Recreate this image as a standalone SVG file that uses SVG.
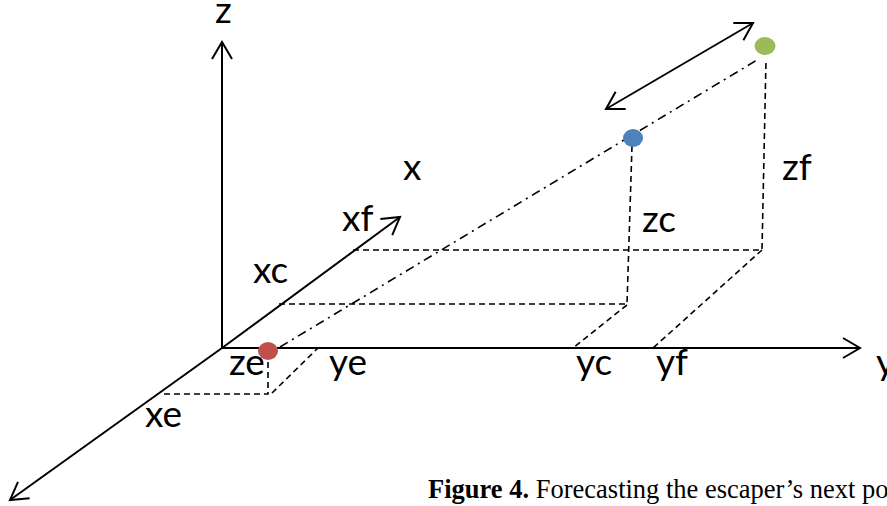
<svg xmlns="http://www.w3.org/2000/svg" width="887" height="506" viewBox="0 0 887 506">
  <style>
    .axis { stroke: #000; stroke-width: 2; fill: none; }
    .dash { stroke: #000; stroke-width: 1.6; fill: none; stroke-dasharray: 6 4; }
    .dashdot { stroke: #000; stroke-width: 1.6; fill: none; stroke-dasharray: 9 5 2 5; }
    .lbl { font-family: Lato, "Open Sans", "Liberation Sans", sans-serif; font-size: 37px; fill: #000; }
    .cap { font-family: "Liberation Serif", "Times New Roman", serif; font-size: 26.5px; fill: #000; }
  </style>
  <defs>
    <marker id="open" markerUnits="userSpaceOnUse" markerWidth="40" markerHeight="40" viewBox="-20 -20 40 40" refX="0" refY="0" orient="auto-start-reverse" overflow="visible">
      <path d="M-17,-10 L0,0 L-17,10" fill="none" stroke="#000" stroke-width="2"/>
    </marker>
  </defs>
  <rect width="887" height="506" fill="#fff"/>

  <g id="connectors">
    <!-- axes -->
    <line class="axis" x1="222" y1="348" x2="222" y2="42" marker-end="url(#open)"/>
    <line class="axis" x1="222" y1="348" x2="860" y2="348" marker-end="url(#open)"/>
    <line class="axis" x1="222" y1="348" x2="10" y2="500" marker-end="url(#open)"/>
    <line class="axis" x1="222" y1="348" x2="400" y2="217" marker-end="url(#open)"/>
    <!-- double arrow -->
    <line class="axis" x1="606" y1="109" x2="753" y2="23" marker-start="url(#open)" marker-end="url(#open)" style="stroke-width:1.8"/>
    <!-- dashed projections -->
    <polyline class="dash" points="353,250 762,250 766,60"/>
    <line class="dash" x1="762" y1="250" x2="653" y2="348"/>
    <polyline class="dash" points="279,304 627,304 632,146"/>
    <line class="dash" x1="627" y1="305" x2="573" y2="348"/>
    <polyline class="dash" points="268,352 268,394 162,394"/>
    <line class="dash" x1="272" y1="393" x2="318" y2="348"/>
    <!-- trajectory -->
    <line class="dashdot" x1="280" y1="347" x2="757" y2="60"/>
  </g>

  <g id="labels">
    <text class="lbl" x="215" y="23">z</text>
    <text class="lbl" x="403" y="180">x</text>
    <text class="lbl" x="342" y="231">xf</text>
    <text class="lbl" x="253" y="283">xc</text>
    <text class="lbl" x="642" y="232">zc</text>
    <text class="lbl" x="782" y="180">zf</text>
    <text class="lbl" x="229" y="375">ze</text>
    <text class="lbl" x="329" y="375">ye</text>
    <text class="lbl" x="145" y="427">xe</text>
    <text class="lbl" x="576" y="375">yc</text>
    <text class="lbl" x="656" y="375">yf</text>
    <text class="lbl" x="876" y="375">y</text>
  </g>

  <g id="node-e">
    <ellipse cx="268" cy="351" rx="10" ry="9" fill="#C0504D"/>
  </g>
  <g id="node-c">
    <ellipse cx="633" cy="138" rx="10" ry="9" fill="#4F81BD"/>
  </g>
  <g id="node-f">
    <ellipse cx="765" cy="46" rx="10.5" ry="9" fill="#9BBB59"/>
  </g>

  <g id="caption">
    <text class="cap" x="428" y="498"><tspan font-weight="bold">Figure 4.</tspan> Forecasting the escaper’s next po</text>
  </g>
</svg>
